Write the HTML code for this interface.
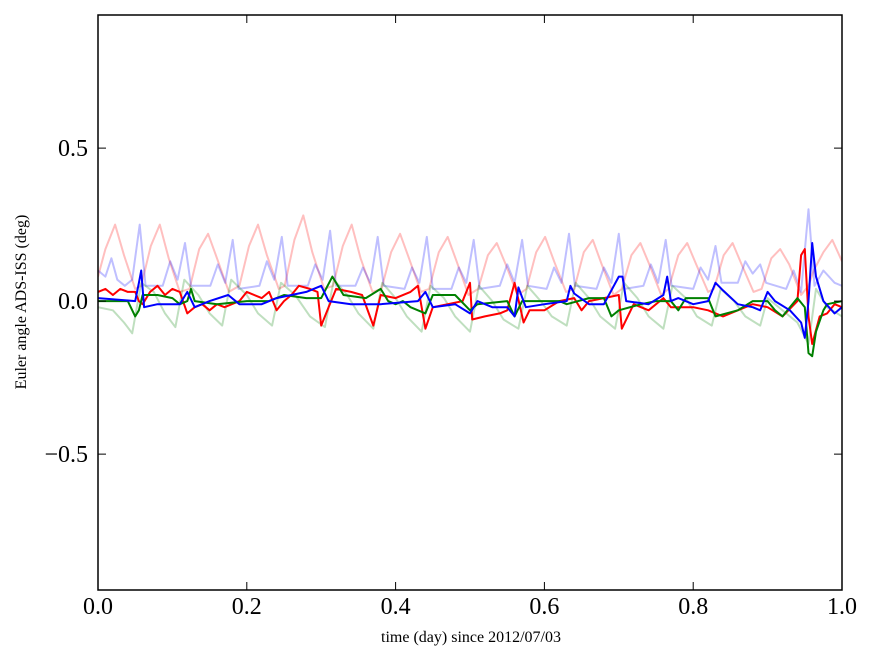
<!DOCTYPE html>
<html><head><meta charset="utf-8"><style>
html,body{margin:0;padding:0;background:#fff;}
svg{display:block;font-family:"Liberation Serif",serif;}
</style></head><body>
<svg id="chart" width="875" height="662" viewBox="0 0 875 662">
<g id="series"></g>
<rect x="98" y="15" width="744" height="575" fill="none" stroke="#000" stroke-width="1.5"/>
<g id="axes"></g>
<text x="471" y="642" font-size="16" text-anchor="middle">time (day) since 2012/07/03</text>
<text x="26" y="302" font-size="16" text-anchor="middle" transform="rotate(-90 26 302)">Euler angle ADS-ISS (deg)</text>
</svg>
<script>
const xTicks=[0,0.2,0.4,0.6,0.8,1.0];
const xTickLabels=["0.0","0.2","0.4","0.6","0.8","1.0"];
const yTicks=[-0.5,0,0.5];
const yTickLabels=["\u22120.5","0.0","0.5"];

const pinkT=[0,.01,.023,.035,.05,.058,.071,.083,.095,.11,.123,.136,.148,.16,.176,.19,.203,.215,.227,.243,.251,.264,.276,.288,.304,.316,.329,.341,.353,.369,.381,.394,.406,.418,.434,.445,.458,.470,.482,.498,.511,.524,.536,.548,.564,.576,.589,.601,.613,.629,.640,.653,.665,.677,.693,.704,.717,.729,.741,.757,.767,.780,.792,.804,.820,.828,.841,.853,.865,.881,.892,.905,.917,.929,.945,.955,.962,.975,.987,1.0];
const pinkV=[.08,.17,.25,.15,.04,.05,.18,.25,.14,.03,.04,.17,.22,.14,.03,.05,.18,.25,.15,.04,.05,.2,.28,.16,.04,.05,.18,.25,.14,.03,.04,.16,.22,.14,.03,.04,.16,.21,.13,.02,.04,.15,.19,.12,.02,.04,.16,.21,.13,.03,.04,.16,.20,.12,.02,.04,.15,.19,.12,.02,.04,.15,.19,.12,.03,.04,.15,.19,.12,.03,.04,.14,.17,.12,.02,.05,.1,.16,.20,.13];

const lblueT=[0,.01,.018,.026,.036,.046,.056,.064,.087,.097,.107,.117,.125,.151,.161,.171,.181,.189,.217,.227,.237,.247,.255,.282,.292,.302,.312,.320,.346,.356,.366,.376,.384,.412,.422,.432,.442,.450,.475,.485,.495,.505,.513,.540,.550,.560,.570,.578,.603,.613,.623,.633,.641,.670,.680,.690,.700,.708,.733,.743,.753,.763,.771,.800,.810,.820,.830,.838,.860,.870,.880,.890,.898,.925,.935,.945,.955,.963,.975,.99,1.0];
const lblueV=[.10,.08,.14,.07,.05,.07,.25,.05,.05,.13,.07,.19,.05,.05,.12,.06,.20,.04,.05,.13,.07,.21,.05,.05,.12,.07,.23,.05,.05,.11,.06,.21,.05,.04,.11,.06,.21,.04,.04,.11,.06,.20,.04,.05,.12,.06,.20,.05,.04,.11,.06,.22,.05,.04,.11,.06,.22,.04,.05,.12,.06,.20,.05,.04,.11,.07,.18,.06,.06,.13,.09,.12,.06,.04,.10,.03,.30,.05,.10,.06,.05];

const lgreenT=[0,.02,.035,.046,.058,.075,.09,.104,.116,.135,.15,.167,.179,.20,.215,.234,.246,.265,.285,.305,.317,.335,.35,.37,.382,.40,.415,.435,.447,.465,.48,.50,.512,.53,.545,.565,.577,.595,.61,.63,.642,.66,.675,.695,.707,.725,.74,.76,.772,.79,.805,.825,.837,.855,.87,.89,.90,.92,.94,.955,.965,.98,1.0];
const lgreenV=[-.02,-.03,-.07,-.105,.06,.03,-.04,-.085,.07,.02,-.04,-.08,.07,.02,-.04,-.08,.06,.02,-.05,-.085,.07,.02,-.04,-.09,.06,.01,-.05,-.1,.05,.01,-.05,-.1,.05,0,-.06,-.09,.05,0,-.05,-.08,.06,.01,-.05,-.09,.06,.01,-.05,-.09,.05,.01,-.05,-.08,.04,0,-.05,-.08,.01,-.03,-.07,-.14,.04,-.02,-.05];

const redT=[0,.01,.02,.03,.04,.05,.055,.06,.07,.08,.09,.10,.11,.12,.13,.14,.15,.16,.17,.19,.20,.22,.23,.24,.25,.26,.27,.285,.295,.30,.31,.32,.34,.355,.37,.38,.40,.42,.43,.44,.45,.47,.49,.50,.503,.52,.54,.55,.56,.572,.58,.60,.62,.64,.65,.66,.68,.70,.704,.72,.74,.76,.77,.80,.82,.84,.86,.88,.90,.92,.94,.945,.95,.955,.96,.97,.98,.99,1.0];
const redV=[.03,.04,.02,.04,.03,.03,0,-.01,.03,.05,.02,.04,.03,-.04,-.02,-.01,-.03,-.01,-.02,0,.03,.01,.03,-.03,0,.02,.05,.04,.03,-.08,-.02,.04,.03,.02,-.08,.02,.01,.03,.05,-.09,-.02,-.01,0,.06,-.06,-.05,-.04,-.03,.06,-.07,-.03,-.03,0,.01,-.03,0,.01,.02,-.09,-.01,-.03,.01,-.02,-.02,-.03,-.05,-.03,-.01,-.02,-.05,0,.15,.17,-.05,-.14,-.05,-.04,-.01,-.02];

const greenT=[0,.04,.05,.055,.06,.08,.10,.11,.12,.125,.13,.16,.20,.23,.25,.28,.30,.315,.33,.36,.38,.39,.40,.41,.42,.44,.45,.48,.50,.51,.55,.56,.57,.62,.63,.66,.68,.69,.70,.73,.75,.77,.78,.79,.82,.83,.86,.88,.90,.91,.92,.94,.95,.955,.96,.965,.975,.98,1.0];
const greenV=[0,0,-.05,-.03,.02,.02,.01,-.01,0,.04,0,-.01,0,0,.02,.01,.01,.08,.02,.01,.04,0,-.01,0,-.02,-.04,.02,.02,-.03,-.01,0,-.05,0,0,-.01,.01,.01,-.05,-.03,-.01,0,0,-.03,.01,.01,-.05,-.03,0,0,-.03,-.05,.01,-.02,-.17,-.18,-.10,-.03,-.01,0];

const blueT=[0,.05,.055,.058,.062,.08,.11,.12,.13,.15,.175,.19,.22,.24,.26,.28,.30,.31,.34,.38,.43,.44,.45,.48,.50,.51,.53,.55,.56,.565,.575,.60,.63,.635,.64,.66,.68,.70,.705,.71,.74,.76,.765,.77,.78,.80,.82,.83,.84,.86,.88,.89,.90,.91,.93,.945,.95,.955,.96,.965,.975,.99,1.0];
const blueV=[.01,0,.06,.10,-.02,-.01,-.01,.03,-.02,0,.02,-.01,-.01,.01,.02,.03,.05,0,-.01,-.01,0,.03,-.02,-.01,-.04,0,-.02,-.02,-.05,.045,-.02,-.01,0,.05,.025,-.01,-.01,.08,.08,0,-.01,.02,.08,0,.01,-.01,0,.06,.035,-.01,-.02,-.03,.03,0,-.03,-.07,-.12,0,.19,.08,0,-.04,-.02];

const X0=98,X1=842,Y0=590,Y1=15,VMIN=-0.944,VMAX=0.935;
function xs(t){return X0+(t-0)/(1-0)*(X1-X0);}
function ys(v){return Y0-(v-VMIN)/(VMAX-VMIN)*(Y0-Y1);}
const NS="http://www.w3.org/2000/svg";
const sg=document.getElementById('series');
const clip=document.createElementNS(NS,'clipPath');clip.setAttribute('id','pc');
const cr=document.createElementNS(NS,'rect');cr.setAttribute('x',X0);cr.setAttribute('y',Y1);cr.setAttribute('width',X1-X0);cr.setAttribute('height',Y0-Y1);
clip.appendChild(cr);sg.appendChild(clip);sg.setAttribute('clip-path','url(#pc)');
function line(T,V,color,op,name){
  let d='';for(let i=0;i<T.length;i++){d+=(i?'L':'M')+xs(T[i]).toFixed(1)+','+ys(V[i]).toFixed(1);}
  const p=document.createElementNS(NS,'path');
  p.setAttribute('d',d);p.setAttribute('fill','none');p.setAttribute('stroke',color);
  p.setAttribute('stroke-opacity',op);p.setAttribute('stroke-width','2');p.setAttribute('stroke-linejoin','round');
  
  
  sg.appendChild(p);
}
line(pinkT,pinkV,'#ff0000',0.25,'faint-red-series');
line(lblueT,lblueV,'#0000ff',0.25,'faint-blue-series');
line(lgreenT,lgreenV,'#008000',0.25,'faint-green-series');
line(redT,redV,'#ff0000',1,'red-series');
line(greenT,greenV,'#008000',1,'green-series');
line(blueT,blueV,'#0000ff',1,'blue-series');

const ag=document.getElementById('axes');
function mk(tag,attrs){const e=document.createElementNS(NS,tag);for(const k in attrs)e.setAttribute(k,attrs[k]);ag.appendChild(e);return e;}
xTicks.forEach((t,i)=>{
  const x=xs(t);
  const a=mk('line',{x1:x,x2:x,y1:Y0,y2:Y0-8,stroke:'#000','stroke-width':1});
  
  
  const b=mk('line',{x1:x,x2:x,y1:Y1,y2:Y1+8,stroke:'#000','stroke-width':1});
  
  
  const tx=mk('text',{x:x,y:614,'font-size':24,'text-anchor':'middle'});tx.textContent=xTickLabels[i];
  
  
});
yTicks.forEach((v,i)=>{
  const y=ys(v);
  const a=mk('line',{x1:X0,x2:X0+8,y1:y,y2:y,stroke:'#000','stroke-width':1});
  
  
  const b=mk('line',{x1:X1,x2:X1-8,y1:y,y2:y,stroke:'#000','stroke-width':1});
  
  
  const tx=mk('text',{x:88,y:y+8,'font-size':24,'text-anchor':'end'});tx.textContent=yTickLabels[i];
  
  
});
</script>
</body></html>
